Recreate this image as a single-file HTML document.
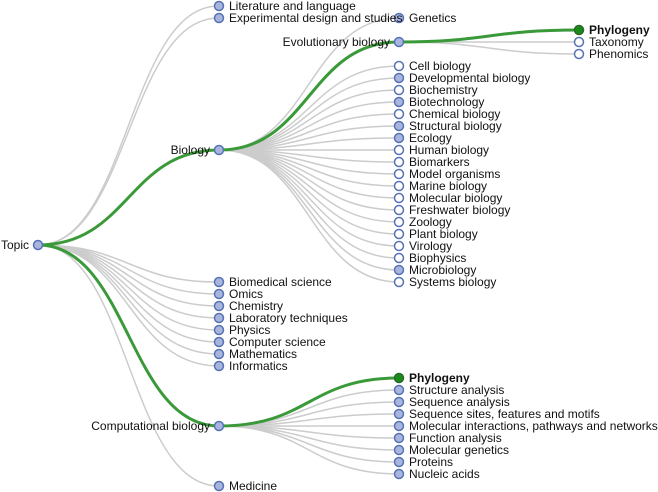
<!DOCTYPE html>
<html><head><meta charset="utf-8"><style>
body{margin:0;background:#fff}
svg{display:block;font-family:"Liberation Sans",sans-serif;font-size:12px}
.l{fill:none;stroke:#ccc;stroke-width:1.5}
.g{fill:none;stroke:#3a9a3a;stroke-width:3}
.n{fill:#aab5dd;stroke:#5573b5;stroke-width:1.5}
.e{fill:#fff;stroke:#5573b5;stroke-width:1.5}
.s{fill:#1a8a1a;stroke:#2a6a2a;stroke-width:1.5}
text{fill:#111}
</style></head><body>
<svg width="658" height="492" viewBox="0 0 658 492">
<g>
<path class="l" d="M38,245C128.5,245 128.5,6 219,6"/>
<path class="l" d="M38,245C128.5,245 128.5,18 219,18"/>
<path class="l" d="M38,245C128.5,245 128.5,282 219,282"/>
<path class="l" d="M38,245C128.5,245 128.5,294 219,294"/>
<path class="l" d="M38,245C128.5,245 128.5,306 219,306"/>
<path class="l" d="M38,245C128.5,245 128.5,318 219,318"/>
<path class="l" d="M38,245C128.5,245 128.5,330 219,330"/>
<path class="l" d="M38,245C128.5,245 128.5,342 219,342"/>
<path class="l" d="M38,245C128.5,245 128.5,354 219,354"/>
<path class="l" d="M38,245C128.5,245 128.5,366 219,366"/>
<path class="l" d="M38,245C128.5,245 128.5,486 219,486"/>
<path class="l" d="M219,150C309,150 309,18 399,18"/>
<path class="l" d="M219,150C309,150 309,66 399,66"/>
<path class="l" d="M219,150C309,150 309,78 399,78"/>
<path class="l" d="M219,150C309,150 309,90 399,90"/>
<path class="l" d="M219,150C309,150 309,102 399,102"/>
<path class="l" d="M219,150C309,150 309,114 399,114"/>
<path class="l" d="M219,150C309,150 309,126 399,126"/>
<path class="l" d="M219,150C309,150 309,138 399,138"/>
<path class="l" d="M219,150C309,150 309,150 399,150"/>
<path class="l" d="M219,150C309,150 309,162 399,162"/>
<path class="l" d="M219,150C309,150 309,174 399,174"/>
<path class="l" d="M219,150C309,150 309,186 399,186"/>
<path class="l" d="M219,150C309,150 309,198 399,198"/>
<path class="l" d="M219,150C309,150 309,210 399,210"/>
<path class="l" d="M219,150C309,150 309,222 399,222"/>
<path class="l" d="M219,150C309,150 309,234 399,234"/>
<path class="l" d="M219,150C309,150 309,246 399,246"/>
<path class="l" d="M219,150C309,150 309,258 399,258"/>
<path class="l" d="M219,150C309,150 309,270 399,270"/>
<path class="l" d="M219,150C309,150 309,282 399,282"/>
<path class="l" d="M219,426C309,426 309,390 399,390"/>
<path class="l" d="M219,426C309,426 309,402 399,402"/>
<path class="l" d="M219,426C309,426 309,414 399,414"/>
<path class="l" d="M219,426C309,426 309,426 399,426"/>
<path class="l" d="M219,426C309,426 309,438 399,438"/>
<path class="l" d="M219,426C309,426 309,450 399,450"/>
<path class="l" d="M219,426C309,426 309,462 399,462"/>
<path class="l" d="M219,426C309,426 309,474 399,474"/>
<path class="l" d="M399,42C489,42 489,42 579,42"/>
<path class="l" d="M399,42C489,42 489,54 579,54"/>
<path class="g" d="M38,245C128.5,245 128.5,150 219,150"/>
<path class="g" d="M38,245C128.5,245 128.5,426 219,426"/>
<path class="g" d="M219,150C309,150 309,42 399,42"/>
<path class="g" d="M219,426C309,426 309,378 399,378"/>
<path class="g" d="M399,42C489,42 489,30 579,30"/>
</g>
<g>
<circle class="n" cx="38" cy="245" r="4.5"/>
<circle class="n" cx="219" cy="6" r="4.5"/><circle class="n" cx="219" cy="18" r="4.5"/>
<circle class="n" cx="219" cy="150" r="4.5"/>
<circle class="n" cx="219" cy="282" r="4.5"/><circle class="n" cx="219" cy="294" r="4.5"/>
<circle class="n" cx="219" cy="306" r="4.5"/><circle class="n" cx="219" cy="318" r="4.5"/>
<circle class="n" cx="219" cy="330" r="4.5"/><circle class="n" cx="219" cy="342" r="4.5"/>
<circle class="n" cx="219" cy="354" r="4.5"/><circle class="n" cx="219" cy="366" r="4.5"/>
<circle class="n" cx="219" cy="426" r="4.5"/><circle class="n" cx="219" cy="486" r="4.5"/>
<circle class="n" cx="399" cy="18" r="4.5"/><circle class="n" cx="399" cy="42" r="4.5"/>
<circle class="e" cx="399" cy="66" r="4.5"/><circle class="n" cx="399" cy="78" r="4.5"/>
<circle class="e" cx="399" cy="90" r="4.5"/><circle class="n" cx="399" cy="102" r="4.5"/>
<circle class="e" cx="399" cy="114" r="4.5"/><circle class="n" cx="399" cy="126" r="4.5"/>
<circle class="n" cx="399" cy="138" r="4.5"/><circle class="e" cx="399" cy="150" r="4.5"/>
<circle class="e" cx="399" cy="162" r="4.5"/><circle class="e" cx="399" cy="174" r="4.5"/>
<circle class="e" cx="399" cy="186" r="4.5"/><circle class="e" cx="399" cy="198" r="4.5"/>
<circle class="e" cx="399" cy="210" r="4.5"/><circle class="e" cx="399" cy="222" r="4.5"/>
<circle class="e" cx="399" cy="234" r="4.5"/><circle class="e" cx="399" cy="246" r="4.5"/>
<circle class="e" cx="399" cy="258" r="4.5"/><circle class="n" cx="399" cy="270" r="4.5"/>
<circle class="e" cx="399" cy="282" r="4.5"/>
<circle class="s" cx="399" cy="378" r="4.5"/>
<circle class="n" cx="399" cy="390" r="4.5"/><circle class="n" cx="399" cy="402" r="4.5"/>
<circle class="n" cx="399" cy="414" r="4.5"/><circle class="n" cx="399" cy="426" r="4.5"/>
<circle class="n" cx="399" cy="438" r="4.5"/><circle class="n" cx="399" cy="450" r="4.5"/>
<circle class="n" cx="399" cy="462" r="4.5"/><circle class="n" cx="399" cy="474" r="4.5"/>
<circle class="s" cx="579" cy="30" r="4.5"/>
<circle class="e" cx="579" cy="42" r="4.5"/><circle class="e" cx="579" cy="54" r="4.5"/>
</g>
<g>
<text x="29" y="249" text-anchor="end">Topic</text>
<text x="210" y="154" text-anchor="end">Biology</text>
<text x="210" y="430" text-anchor="end">Computational biology</text>
<text x="390" y="46" text-anchor="end">Evolutionary biology</text>
<text x="229" y="10">Literature and language</text>
<text x="229" y="22">Experimental design and studies</text>
<text x="229" y="286">Biomedical science</text>
<text x="229" y="298">Omics</text>
<text x="229" y="310">Chemistry</text>
<text x="229" y="322">Laboratory techniques</text>
<text x="229" y="334">Physics</text>
<text x="229" y="346">Computer science</text>
<text x="229" y="358">Mathematics</text>
<text x="229" y="370">Informatics</text>
<text x="229" y="490">Medicine</text>
<text x="409" y="22">Genetics</text>
<text x="409" y="70">Cell biology</text>
<text x="409" y="82">Developmental biology</text>
<text x="409" y="94">Biochemistry</text>
<text x="409" y="106">Biotechnology</text>
<text x="409" y="118">Chemical biology</text>
<text x="409" y="130">Structural biology</text>
<text x="409" y="142">Ecology</text>
<text x="409" y="154">Human biology</text>
<text x="409" y="166">Biomarkers</text>
<text x="409" y="178">Model organisms</text>
<text x="409" y="190">Marine biology</text>
<text x="409" y="202">Molecular biology</text>
<text x="409" y="214">Freshwater biology</text>
<text x="409" y="226">Zoology</text>
<text x="409" y="238">Plant biology</text>
<text x="409" y="250">Virology</text>
<text x="409" y="262">Biophysics</text>
<text x="409" y="274">Microbiology</text>
<text x="409" y="286">Systems biology</text>
<text x="409" y="382" font-weight="bold">Phylogeny</text>
<text x="409" y="394">Structure analysis</text>
<text x="409" y="406">Sequence analysis</text>
<text x="409" y="418">Sequence sites, features and motifs</text>
<text x="409" y="430">Molecular interactions, pathways and networks</text>
<text x="409" y="442">Function analysis</text>
<text x="409" y="454">Molecular genetics</text>
<text x="409" y="466">Proteins</text>
<text x="409" y="478">Nucleic acids</text>
<text x="589" y="34" font-weight="bold">Phylogeny</text>
<text x="589" y="46">Taxonomy</text>
<text x="589" y="58">Phenomics</text>
</g>
</svg>
</body></html>
